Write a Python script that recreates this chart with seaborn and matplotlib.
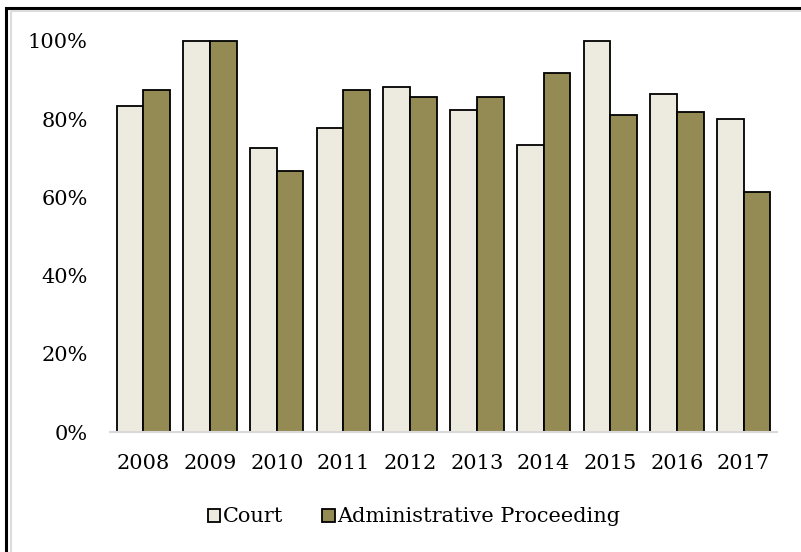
import pandas as pd
import seaborn as sns
import matplotlib.pyplot as plt
from matplotlib.patches import Patch, Rectangle
from matplotlib.ticker import PercentFormatter

# values (share of cases, 0-1)
YEARS = ["2008", "2009", "2010", "2011", "2012", "2013", "2014", "2015", "2016", "2017"]
COURT = [0.833, 1.0, 0.727, 0.778, 0.882, 0.824, 0.733, 1.0, 0.864, 0.80]
ADMIN = [0.875, 1.0, 0.667, 0.875, 0.857, 0.857, 0.917, 0.810, 0.818, 0.615]
SERIES = ["Court", "Administrative Proceeding"]
COLORS = ["#EDEADF", "#948A54"]
FS = 15

sns.set_theme(style="white")
plt.rcParams["font.family"] = ["DejaVu Serif"]
plt.rcParams.update({"text.color": "black", "xtick.color": "black", "ytick.color": "black"})


def build_frame() -> pd.DataFrame:
    rows = []
    for name, vals in zip(SERIES, [COURT, ADMIN]):
        for yr, v in zip(YEARS, vals):
            rows.append({"year": yr, "series": name, "share": v})
    return pd.DataFrame(rows)


def main():
    df = build_frame()
    fig = plt.figure(figsize=(8.01, 5.52), dpi=100)
    ax = fig.add_axes([110 / 801, 1 - 432 / 552, 667 / 801, 391 / 552])

    sns.barplot(
        df, x="year", y="share", hue="series", hue_order=SERIES, order=YEARS,
        palette=COLORS, width=0.8, gap=0, edgecolor="black", linewidth=1.3,
        saturation=1, ax=ax,
    )
    for p in ax.patches:
        p.set_clip_on(False)

    ax.set_ylim(0, 1)
    ax.set_xlim(-0.5, len(YEARS) - 0.5)
    ax.set_yticks([0, 0.2, 0.4, 0.6, 0.8, 1.0])
    ax.yaxis.set_major_formatter(PercentFormatter(1.0, decimals=0))
    ax.set_xlabel("")
    ax.set_ylabel("")
    ax.tick_params(axis="both", length=0, colors="black", labelsize=FS)
    ax.tick_params(axis="y", pad=16)
    ax.tick_params(axis="x", pad=16)
    for side in ["top", "right", "left"]:
        ax.spines[side].set_visible(False)
    ax.spines["bottom"].set_color("#d9d9d9")
    ax.spines["bottom"].set_linewidth(1.5)

    ax.get_legend().remove()
    handles = [Patch(facecolor=c, edgecolor="black", linewidth=1.3) for c in COLORS]
    fig.legend(
        handles, SERIES, loc="center", bbox_to_anchor=(414 / 801, 1 - 517 / 552),
        ncol=2, frameon=False, fontsize=FS, handlelength=0.6, handleheight=0.6,
        handletextpad=0.1, columnspacing=1.9, borderaxespad=0,
    )

    # outer frame (right/bottom sides fall outside the picture)
    fig.patches.append(Rectangle(
        (5.5 / 801, -0.05), 1.1, 1 - 7.5 / 552 + 0.05, transform=fig.transFigure,
        fill=False, edgecolor="black", linewidth=2.2,
    ))
    fig.patches.append(Rectangle(
        (10.5 / 801, -0.05), 1.1, 1 - 10.5 / 552 + 0.05, transform=fig.transFigure,
        fill=False, edgecolor="#dcdcdc", linewidth=1.5,
    ))

    fig.savefig("out.png", dpi=100)
    plt.close(fig)


if __name__ == "__main__":
    main()
